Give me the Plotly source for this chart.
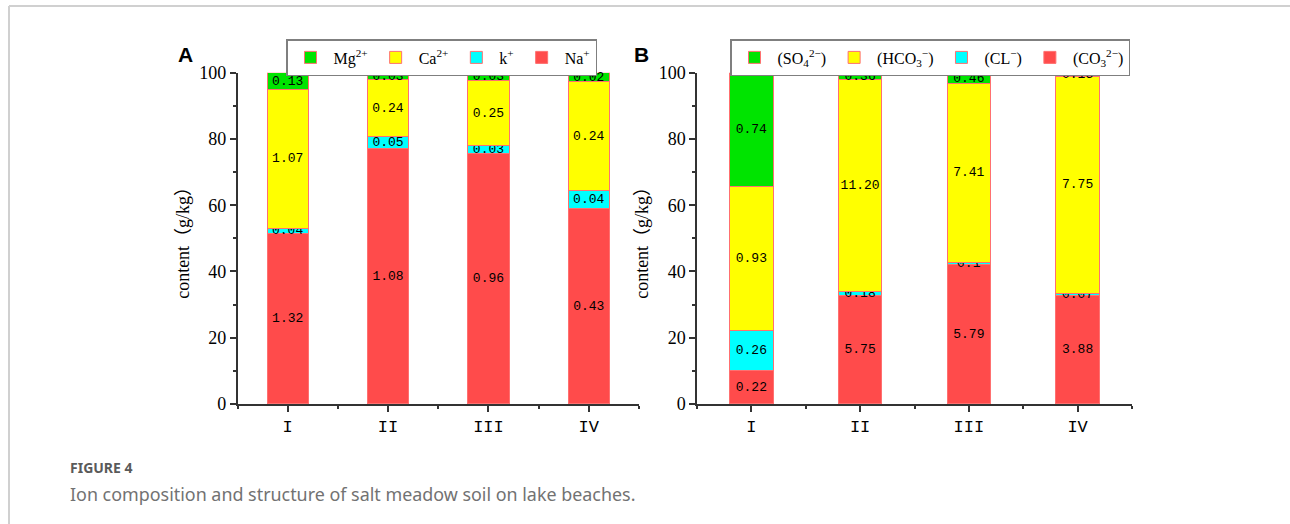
import plotly.graph_objects as go

# ---------------- data ----------------
categories = ["I", "II", "III", "IV"]

# Panel A: cation contents (g/kg), as labelled on the bars
a_na = ["1.32", "1.08", "0.96", "0.43"]
a_k = ["0.04", "0.05", "0.03", "0.04"]
a_ca = ["1.07", "0.24", "0.25", "0.24"]
a_mg = ["0.13", "0.03", "0.03", "0.02"]

# Panel B: anion contents (g/kg), as labelled on the bars
b_co3 = ["0.22", "5.75", "5.79", "3.88"]
b_cl = ["0.26", "0.18", "0.1", "0.07"]
b_hco3 = ["0.93", "11.20", "7.41", "7.75"]
b_so4 = ["0.74", "0.36", "0.46", "0.13"]

a_names = ["Na<sup>+</sup>", "k<sup>+</sup>", "Ca<sup>2+</sup>", "Mg<sup>2+</sup>"]
b_names = ["(CO<sub>3</sub><sup>2−</sup>)", "(CL<sup>−</sup>)",
           "(HCO<sub>3</sub><sup>−</sup>)", "(SO<sub>4</sub><sup>2−</sup>)"]
y_ticks = [0, 20, 40, 60, 80, 100]
y_title = "content（g/kg）"
caption_head = "FIGURE 4"
caption_text = "Ion composition and structure of salt meadow soil on lake beaches."

# ---------------- style ----------------
colors = ["#FF4B4B", "#00FFFF", "#FFFF00", "#00E400"]
edge = "#FF7070"
axis_col = "#333333"
W, H = 1290, 524

xpos = list(range(len(categories)))

fig = go.Figure()


def add_panel(series, names, xa, ya, leg, width):
    for vals, name, col in zip(series, names, colors):
        fig.add_trace(go.Bar(
            x=xpos, y=[float(v) for v in vals], text=vals, name=name,
            marker=dict(color=col, line=dict(color=edge, width=1)),
            width=width, textposition="inside", insidetextanchor="middle",
            textangle=0, constraintext="none", cliponaxis=False,
            textfont=dict(family="Liberation Mono", size=13, color="black"),
            insidetextfont=dict(family="Liberation Mono", size=13, color="black"),
            xaxis=xa, yaxis=ya, legend=leg, hoverinfo="skip"))


add_panel([a_na, a_k, a_ca, a_mg], a_names, "x", "y", "legend", 0.41)
add_panel([b_co3, b_cl, b_hco3, b_so4], b_names, "x2", "y2", "legend2", 0.40)

tickfont = dict(family="Liberation Serif", size=18, color="black")
xtickfont = dict(family="Liberation Mono", size=17, color="black")

ydom = [1 - 404 / H, 1 - 72.7 / H]


def xaxis(dom, anchor):
    return dict(domain=dom, anchor=anchor, range=[-0.5, 3.5], automargin=False,
                tickvals=xpos, ticktext=categories, ticks="outside", ticklen=6,
                tickwidth=1.5, tickcolor=axis_col, showline=True,
                linecolor=axis_col, linewidth=1.5, showgrid=False,
                zeroline=False, tickfont=xtickfont,
                minor=dict(tick0=0.5, dtick=1, ticks="outside", ticklen=3,
                           tickwidth=1.5, tickcolor=axis_col, showgrid=False))


def yaxis(anchor):
    return dict(domain=ydom, anchor=anchor, range=[0, 100], tickvals=y_ticks,
                automargin="left+right",
                ticks="outside", ticklen=6, tickwidth=1.5, tickcolor=axis_col,
                showline=True, linecolor=axis_col, linewidth=1.5,
                showgrid=False, zeroline=False, tickfont=tickfont,
                title=dict(text=y_title, standoff=5,
                           font=dict(family="Liberation Serif, Noto Sans CJK SC",
                                     size=18, color="black")),
                minor=dict(dtick=10, ticks="outside", ticklen=3, tickwidth=1.5,
                           tickcolor=axis_col, showgrid=False))


def legend(x):
    return dict(orientation="h", x=x, y=1 - 39 / H, xanchor="left",
                yanchor="top", bordercolor="#7f7f7f", borderwidth=1.5,
                bgcolor="white", traceorder="reversed", itemwidth=36,
                valign="middle",
                font=dict(family="Liberation Serif", size=16, color="black"))


def note(text, x, y, size, color, family, xanchor="center"):
    return dict(text=text, x=x / W, y=1 - y / H, xref="paper", yref="paper",
                xanchor=xanchor, yanchor="middle", showarrow=False,
                font=dict(family=family, size=size, color=color))


fig.update_layout(
    width=W, height=H, margin=dict(l=0, r=0, t=0, b=0, autoexpand=False),
    paper_bgcolor="white", plot_bgcolor="white",
    barmode="stack", barnorm="percent", showlegend=True,
    xaxis=xaxis([237.5 / W, 639 / W], "y"),
    yaxis=yaxis("x"),
    xaxis2=xaxis([697 / W, 1132 / W], "y2"),
    yaxis2=yaxis("x2"),
    legend=legend(286 / W),
    legend2=legend(730 / W),
    annotations=[
        note("<b>A</b>", 185, 55, 21, "black", "Liberation Sans"),
        note("<b>B</b>", 641, 55, 21, "black", "Liberation Sans"),
        note("<b>" + caption_head + "</b>", 68, 467, 14, "#5a5a5a",
             "Noto Sans", "left"),
        note(caption_text, 68, 494, 17.9, "#727272", "Noto Sans", "left"),
    ],
    shapes=[
        dict(type="line", xref="paper", yref="paper", x0=9 / W, x1=9 / W,
             y0=0, y1=1 - 6 / H, line=dict(color="#d0d0d0", width=2)),
        dict(type="line", xref="paper", yref="paper", x0=9 / W, x1=1,
             y0=1 - 6 / H, y1=1 - 6 / H, line=dict(color="#d0d0d0", width=2)),
    ],
)

fig.write_html("out.html")
